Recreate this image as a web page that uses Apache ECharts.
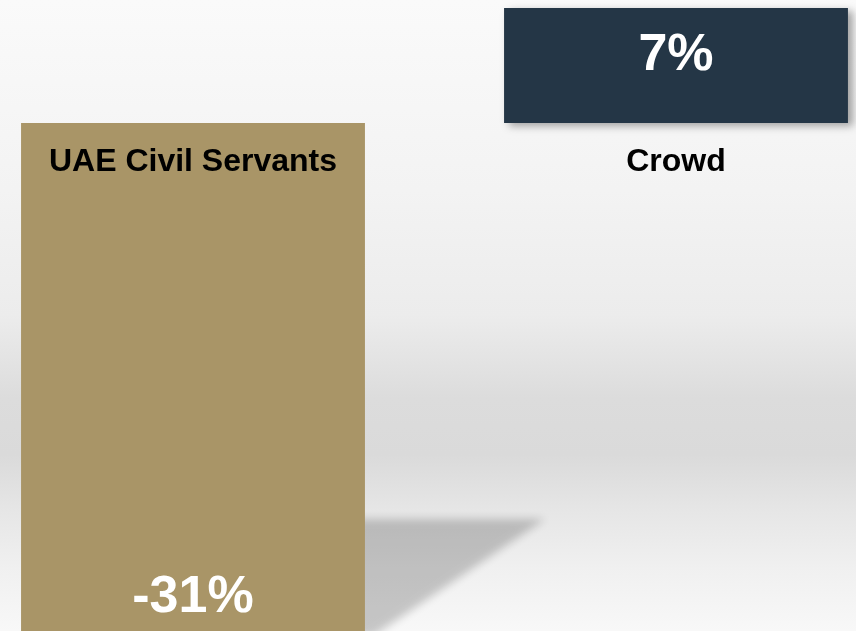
<!DOCTYPE html>
<html>
<head>
<meta charset="utf-8">
<script src="https://cdn.jsdelivr.net/npm/echarts@6/dist/echarts.min.js"></script>
<style>
html,body{margin:0;padding:0;}
#c{width:856px;height:631px;background:linear-gradient(to bottom,#fafafa 0%,#f3f3f3 30%,#ececec 50%,#dcdcdc 63%,#dadada 72%,#e6e6e6 81%,#f0f0f0 90%,#f8f8f8 100%);}
</style>
</head>
<body>
<div id="c"></div>
<script>
var categories = ['UAE Civil Servants', 'Crowd'];
var values = [-31, 7];
var valueLabels = ['-31%', '7%'];
var barColors = ['#a99567', '#243646'];

var chart = echarts.init(document.getElementById('c'), null, {renderer: 'canvas'});
var fontFam = 'Liberation Sans, Arial, sans-serif';
var option = {
  backgroundColor: 'transparent',
  animation: false,
  grid: {left: -48.5, right: -61.5, top: 8, bottom: -1, containLabel: false, outerBoundsMode: 'none'},
  xAxis: {
    type: 'category',
    data: categories,
    axisLine: {show: false},
    axisTick: {show: false},
    axisLabel: {show: false}
  },
  yAxis: {
    type: 'value',
    min: -31,
    max: 7,
    show: false,
    splitLine: {show: false}
  },
  series: [{
    type: 'bar',
    barCategoryGap: '28.8%',
    z: 2,
    data: values.map(function (v, i) {
      return {
        value: v,
        itemStyle: i === 1 ? {
          color: barColors[i],
          shadowColor: 'rgba(0,0,0,0.35)',
          shadowBlur: 8,
          shadowOffsetX: 5,
          shadowOffsetY: 3
        } : {color: barColors[i]},
        label: {
          show: true,
          formatter: valueLabels[i],
          position: i === 1 ? 'insideTop' : 'insideBottom',
          distance: i === 1 ? 22 : 8,
          fontFamily: fontFam,
          fontWeight: 'bold',
          fontSize: 52,
          color: '#fff'
        }
      };
    })
  }, {
    type: 'scatter',
    symbolSize: 0,
    z: 5,
    silent: true,
    itemStyle: {opacity: 1},
    data: categories.map(function (c, i) { return [i, 0]; }),
    label: {
      show: true,
      position: 'bottom',
      distance: 23,
      formatter: function (p) { return categories[p.dataIndex]; },
      fontFamily: fontFam,
      fontWeight: 'bold',
      fontSize: 32,
      color: '#000',
      opacity: 1
    }
  }]
};
chart.setOption(option);

// decorative floor shadow next to the first bar (blurred shadow only)
var p0 = chart.convertToPixel({xAxisIndex: 0, yAxisIndex: 0}, [0, values[0]]);
var bw = 344;
var rx = p0[0] + bw / 2;
var by = p0[1];
var off = 2000;
chart.setOption({
  graphic: [{
    type: 'polygon',
    z: -1,
    shape: {points: [[rx - 30 - off, by - 113], [rx + 180 - off, by - 113], [rx + 8 - off, by + 4], [rx - 30 - off, by + 4]]},
    style: {fill: '#000', shadowBlur: 8, shadowColor: 'rgba(0,0,0,0.2)', shadowOffsetX: off, shadowOffsetY: 0}
  }]
});
</script>
</body>
</html>
